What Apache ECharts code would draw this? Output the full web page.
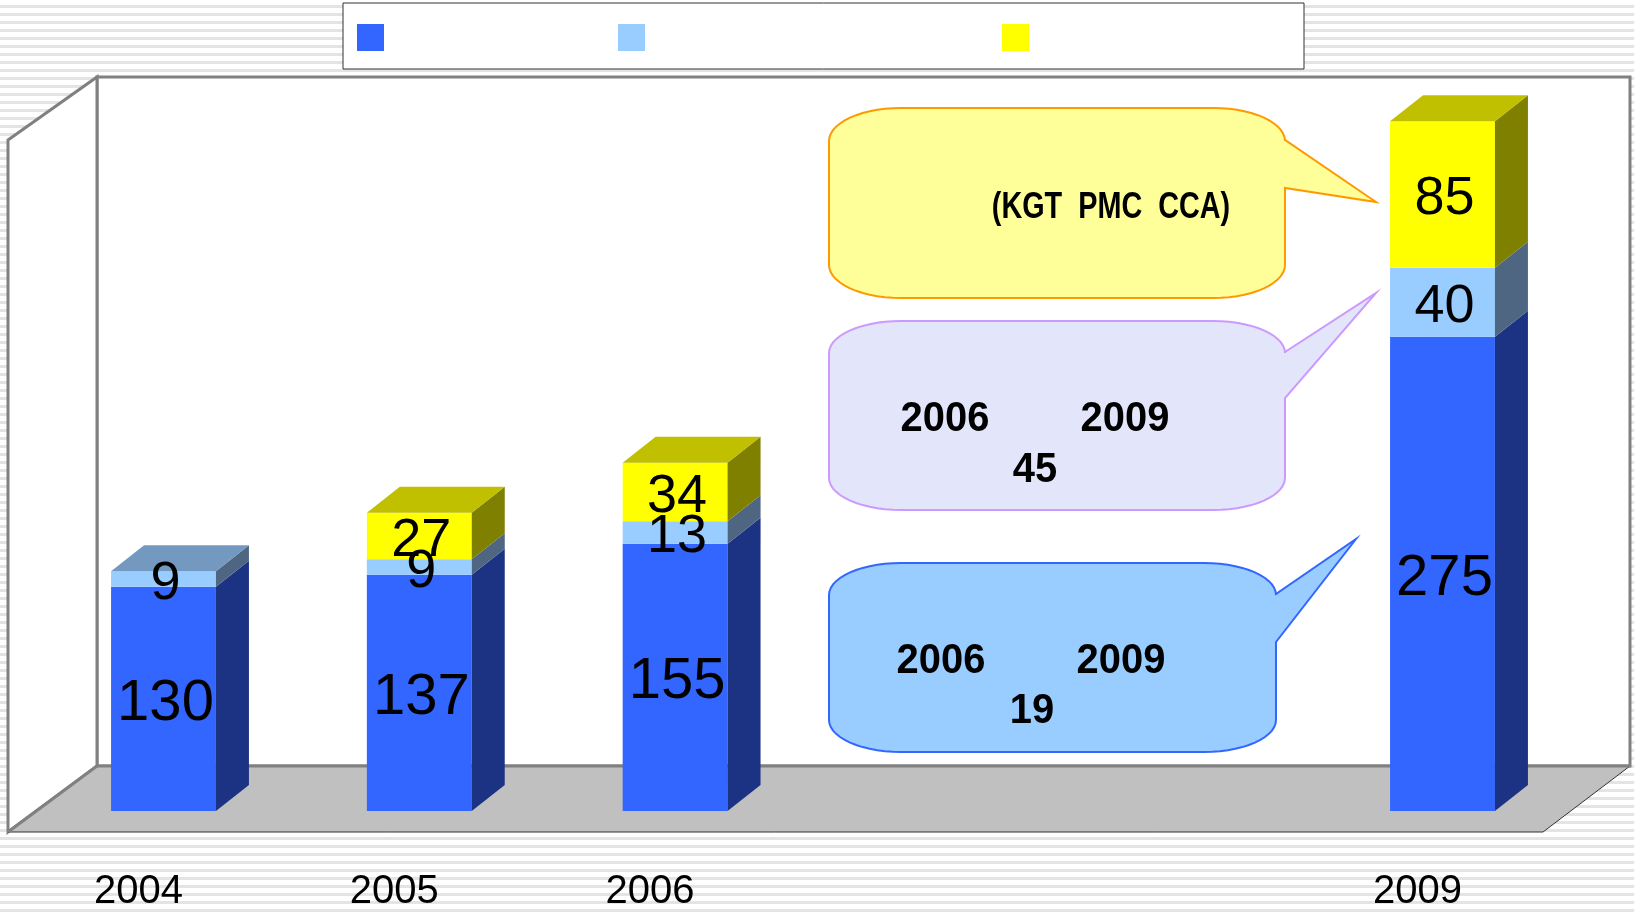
<!DOCTYPE html>
<html>
<head>
<meta charset="utf-8">
<script src="https://cdn.jsdelivr.net/npm/echarts@6/dist/echarts.min.js"></script>
<style>
  html, body { margin: 0; padding: 0; }
  #main {
    width: 1634px;
    height: 913px;
    background: repeating-linear-gradient(to bottom, #ffffff 0px, #ffffff 5px, #e4e4e4 5px, #e4e4e4 8px);
  }
</style>
</head>
<body>
<div id="main"></div>
<script>
// categories (2007, 2008 have no bar and no label)
const years = ["2004", "2005", "2006", "", "", "2009"];
const baseValues = [130, 137, 155, null, null, 275];
const midValues = [9, 9, 13, null, null, 40];
const topValues = [null, 27, 34, null, null, 85];
const seriesNames = ["base", "mid", "top"];

const FONT = '"Liberation Sans", Arial, sans-serif';
const DX = 33, DY = 26; // depth of the 3d bars

const faces = [
  { front: "#3366FF", side: "#1C3384", top: "#2952CC", size: 58 },
  { front: "#99CCFF", side: "#4F6682", top: "#7399C0", size: 54 },
  { front: "#FFFF00", side: "#808000", top: "#C0C000", size: 54 },
];

const allValues = [baseValues, midValues, topValues];

function stackData(k) {
  let out = [];
  years.forEach((y, i) => {
    const v = allValues[k][i];
    if (v == null) return;
    let start = 0;
    for (let j = 0; j < k; j++) start += allValues[j][i] || 0;
    const isTop = allValues.slice(k + 1).every((s) => s[i] == null) ? 1 : 0;
    out.push([i, start, start + v, v, isTop]);
  });
  return out;
}

function makeRender(k) {
  const f = faces[k];
  return function (params, api) {
    const x = api.value(0);
    const p0 = api.coord([x, api.value(1)]);
    const p1 = api.coord([x, api.value(2)]);
    const w = api.size([1, 0])[0] * 0.41;
    const left = p0[0] - w / 2, right = p0[0] + w / 2;
    const top = p1[1], bottom = p0[1];
    const children = [
      { type: "rect", shape: { x: left, y: top, width: w, height: bottom - top }, style: { fill: f.front } },
      {
        type: "polygon",
        shape: { points: [[right, bottom], [right + DX, bottom - DY], [right + DX, top - DY], [right, top]] },
        style: { fill: f.side },
      },
    ];
    if (api.value(4) === 1) {
      children.push({
        type: "polygon",
        shape: { points: [[left, top], [left + DX, top - DY], [right + DX, top - DY], [right, top]] },
        style: { fill: f.top },
      });
    }
    children.push({
      type: "text",
      z2: 100,
      x: p0[0] + 2,
      y: (top + bottom) / 2 + 5,
      style: {
        text: String(api.value(3)),
        font: f.size + "px " + FONT,
        fill: "#000",
        align: "center",
        verticalAlign: "middle",
      },
    });
    return { type: "group", children: children };
  };
}

// speech bubble outline with elliptic corners and a tail on the right side
function bubble(x0, y0, x1, y1, rx, ry, tail) {
  const pts = [];
  const arc = (cx, cy, a0, a1) => {
    for (let i = 0; i <= 14; i++) {
      const a = a0 + ((a1 - a0) * i) / 14;
      pts.push([cx + rx * Math.cos(a), cy + ry * Math.sin(a)]);
    }
  };
  arc(x0 + rx, y0 + ry, Math.PI, 1.5 * Math.PI);
  arc(x1 - rx, y0 + ry, 1.5 * Math.PI, 2 * Math.PI);
  pts.push([x1, tail[0]], [tail[1], tail[2]], [x1, tail[3]]);
  arc(x1 - rx, y1 - ry, 0, 0.5 * Math.PI);
  arc(x0 + rx, y1 - ry, 0.5 * Math.PI, Math.PI);
  return pts;
}

function label(text, x, y, size, sx) {
  return {
    type: "text",
    z: 5,
    x: x,
    y: y,
    scaleX: sx || 1,
    style: {
      text: text,
      font: "bold " + size + "px " + FONT,
      fill: "#000",
      align: "center",
      verticalAlign: "middle",
    },
  };
}

const myChart = echarts.init(document.getElementById("main"));

let option = {
  animation: false,
  grid: { left: 35.6, right: 63.6, top: 35, bottom: 102 },
  xAxis: {
    type: "category",
    data: years,
    axisLine: { show: false },
    axisTick: { show: false },
    axisLabel: {
      interval: 0,
      margin: 61,
      fontSize: 40,
      fontFamily: FONT,
      color: "#000",
      padding: [0, 50, 0, 0],
    },
  },
  yAxis: { type: "value", min: 0, max: 450, show: false },
  legend: [
    { left: 357, top: 24, padding: 0, itemWidth: 27, itemHeight: 27, icon: "rect", data: [seriesNames[0]], formatter: () => "" },
    { left: 618, top: 24, padding: 0, itemWidth: 27, itemHeight: 27, icon: "rect", data: [seriesNames[1]], formatter: () => "" },
    { left: 1002, top: 24, padding: 0, itemWidth: 27, itemHeight: 27, icon: "rect", data: [seriesNames[2]], formatter: () => "" },
  ],
  graphic: [
    // legend frame
    { type: "rect", z: 0, shape: { x: 343, y: 3, width: 961, height: 66 }, style: { fill: "#fff", stroke: "#333", lineWidth: 1 } },
    // back wall
    { type: "rect", z: 0, shape: { x: 97, y: 77, width: 1533, height: 689 }, style: { fill: "#fff", stroke: "#808080", lineWidth: 3 } },
    // left wall
    {
      type: "polygon", z: 0,
      shape: { points: [[8, 140], [97, 77], [97, 766], [8, 832]] },
      style: { fill: "#fff", stroke: "#808080", lineWidth: 3 },
    },
    // floor
    {
      type: "polygon", z: 0,
      shape: { points: [[97, 766], [1630, 766], [1543, 832], [8, 832]] },
      style: { fill: "#C0C0C0", stroke: "#333", lineWidth: 1 },
    },
    { type: "line", z: 0, shape: { x1: 97, y1: 766, x2: 1630, y2: 766 }, style: { stroke: "#808080", lineWidth: 3 } },
    { type: "line", z: 0, shape: { x1: 97, y1: 766, x2: 8, y2: 832 }, style: { stroke: "#808080", lineWidth: 3 } },

    // callouts
    {
      type: "polygon", z: 1,
      shape: { points: bubble(829, 108, 1285, 298, 72, 33, [140, 1376, 202, 188]) },
      style: { fill: "#FFFF99", stroke: "#FF9900", lineWidth: 2 },
    },
    {
      type: "polygon", z: 1,
      shape: { points: bubble(829, 321, 1285, 510, 72, 32, [352, 1376, 293, 398]) },
      style: { fill: "#E3E6FA", stroke: "#CC99FF", lineWidth: 2 },
    },
    {
      type: "polygon", z: 1,
      shape: { points: bubble(829, 563, 1276, 752, 72, 32, [594, 1356, 539, 642]) },
      style: { fill: "#99CCFF", stroke: "#3366FF", lineWidth: 2 },
    },
    label("(KGT  PMC  CCA)", 1111, 208, 36, 0.8),
    label("2006", 945, 419, 42, 0.95),
    label("2009", 1125, 419, 42, 0.95),
    label("45", 1035, 470, 42, 0.95),
    label("2006", 941, 661, 42, 0.95),
    label("2009", 1121, 661, 42, 0.95),
    label("19", 1032, 711, 42, 0.95),
  ],
  series: seriesNames.map((name, k) => ({
    name: name,
    type: "custom",
    clip: false,
    itemStyle: { color: faces[k].front },
    encode: { x: 0, y: [1, 2] },
    renderItem: makeRender(k),
    data: stackData(k),
  })),
};

option && myChart.setOption(option);

window.addEventListener("resize", function () {
  myChart.resize();
});
</script>
</body>
</html>
